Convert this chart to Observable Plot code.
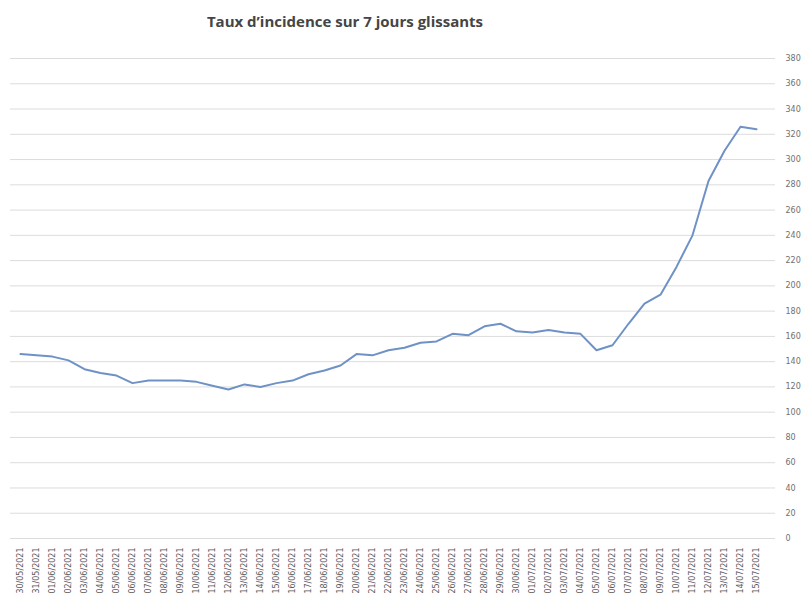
<!DOCTYPE html>
<html>
<head>
<meta charset="utf-8">
<script src="https://cdn.jsdelivr.net/npm/d3@7"></script>
<script src="https://cdn.jsdelivr.net/npm/@observablehq/plot@0.6"></script>
<style>
  html, body { margin: 0; padding: 0; background: #fff; }
  #wrap { position: relative; width: 806px; height: 599px; overflow: hidden; }
  #title { position: absolute; top: 11px; left: 0; width: 690px; text-align: center;
           font-family: "Open Sans", "DejaVu Sans", sans-serif; font-weight: 700; font-size: 15px; color: #454545; }
</style>
</head>
<body>
<div id="wrap">
  <div id="title">Taux d’incidence sur 7 jours glissants</div>
  <div id="chart"></div>
</div>
<script>
const dates = [
  "30/05/2021","31/05/2021","01/06/2021","02/06/2021","03/06/2021","04/06/2021","05/06/2021","06/06/2021",
  "07/06/2021","08/06/2021","09/06/2021","10/06/2021","11/06/2021","12/06/2021","13/06/2021","14/06/2021",
  "15/06/2021","16/06/2021","17/06/2021","18/06/2021","19/06/2021","20/06/2021","21/06/2021","22/06/2021",
  "23/06/2021","24/06/2021","25/06/2021","26/06/2021","27/06/2021","28/06/2021","29/06/2021","30/06/2021",
  "01/07/2021","02/07/2021","03/07/2021","04/07/2021","05/07/2021","06/07/2021","07/07/2021","08/07/2021",
  "09/07/2021","10/07/2021","11/07/2021","12/07/2021","13/07/2021","14/07/2021","15/07/2021"
];
const incidence = [
  146, 145, 144, 141, 134, 131, 129, 123,
  125, 125, 125, 124, 121, 118, 122, 120,
  123, 125, 130, 133, 137, 146, 145, 149,
  151, 155, 156, 162, 161, 168, 170, 164,
  163, 165, 163, 162, 149, 153, 170, 186,
  193, 215, 240, 283, 307, 326, 324
];
const yTicks = [0,20,40,60,80,100,120,140,160,180,200,220,240,260,280,300,320,340,360,380];

const data = dates.map((d, i) => ({date: d, value: incidence[i]}));

const chart = Plot.plot({
  width: 806,
  height: 599,
  marginTop: 58,
  marginBottom: 61,
  marginLeft: 10,
  marginRight: 41,
  style: {fontFamily: "'DejaVu Sans', sans-serif", background: "#fff"},
  x: {type: "point", domain: dates, padding: 0.5},
  y: {domain: [0, 380]},
  marks: [
    Plot.ruleY(yTicks, {stroke: "#dcdcdc", strokeWidth: 1, insetRight: -10}),
    Plot.axisY(yTicks, {anchor: "right", tickSize: 0, tickPadding: 20, fontSize: 8, color: "#707070", label: null}),
    Plot.axisX({tickRotate: -90, tickSize: 0, tickPadding: 9, fontSize: 8, color: "#5a5a5a", label: null}),
    Plot.line(data, {x: "date", y: "value", stroke: "#6e92c6", strokeWidth: 2, curve: "linear"})
  ]
});
document.getElementById("chart").appendChild(chart);
</script>
</body>
</html>
